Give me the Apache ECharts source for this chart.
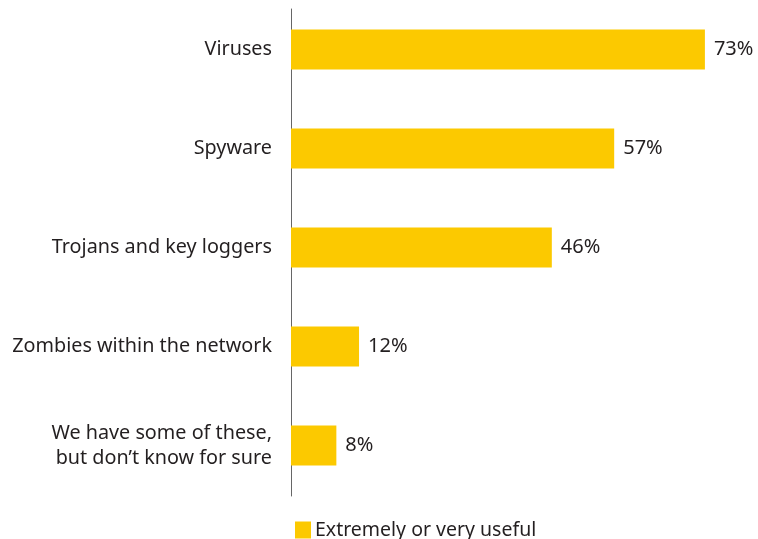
<!DOCTYPE html>
<html>
<head>
<meta charset="utf-8">
<script src="https://cdn.jsdelivr.net/npm/echarts@6/dist/echarts.min.js"></script>
<style>html,body{margin:0;padding:0;background:#fff}#c{width:758px;height:539px}</style>
</head>
<body>
<div id="c"></div>
<script>
var categories = ["Viruses", "Spyware", "Trojans and key loggers", "Zombies within the network", "We have some of these,\nbut don\u2019t know for sure"];
var values = [73, 57, 46, 12, 8];
var seriesName = "Extremely or very useful";

var FONT = "Noto Sans";
var TXT = "#231f20";
var chart = echarts.init(document.getElementById('c'), null, {renderer: 'canvas'});
var scaleMax = 80;
chart.setOption({
  animation: false,
  textStyle: {fontFamily: FONT},
  legend: {
    data: [seriesName],
    left: 290, top: 515,
    itemWidth: 16, itemHeight: 17, itemGap: 5,
    textStyle: {fontFamily: FONT, fontSize: 19.5, color: TXT, padding: [0,0,0,-1]},
    icon: 'rect'
  },
  grid: [
    {left: 291, top: -4.5, width: 567 * scaleMax / 100, height: 499.5, containLabel: false},
    {left: 291, top: 9, width: 10, height: 487, containLabel: false}
  ],
  xAxis: [
    {type: 'value', gridIndex: 0, min: 0, max: scaleMax, show: false},
    {type: 'value', gridIndex: 1, min: 0, max: 1, show: false}
  ],
  yAxis: [
    {type: 'category', gridIndex: 0, data: categories, inverse: true,
     axisLine: {show: false}, axisTick: {show: false}, splitLine: {show: false},
     axisLabel: {margin: 19, fontFamily: FONT, fontSize: 19.8, color: TXT, align: 'right', lineHeight: 25}},
    {type: 'category', gridIndex: 1, data: categories, inverse: true,
     axisLine: {show: true, lineStyle: {color: '#666', width: 1}}, axisTick: {show: false},
     axisLabel: {show: false}, splitLine: {show: false}}
  ],
  series: [{
    name: seriesName,
    type: 'bar',
    xAxisIndex: 0, yAxisIndex: 0,
    data: values,
    barWidth: 40,
    itemStyle: {color: '#fcc900'},
    label: {show: true, position: 'right', distance: 9, formatter: '{c}%', fontFamily: FONT, fontSize: 20, color: TXT}
  }]
});
</script>
</body>
</html>
